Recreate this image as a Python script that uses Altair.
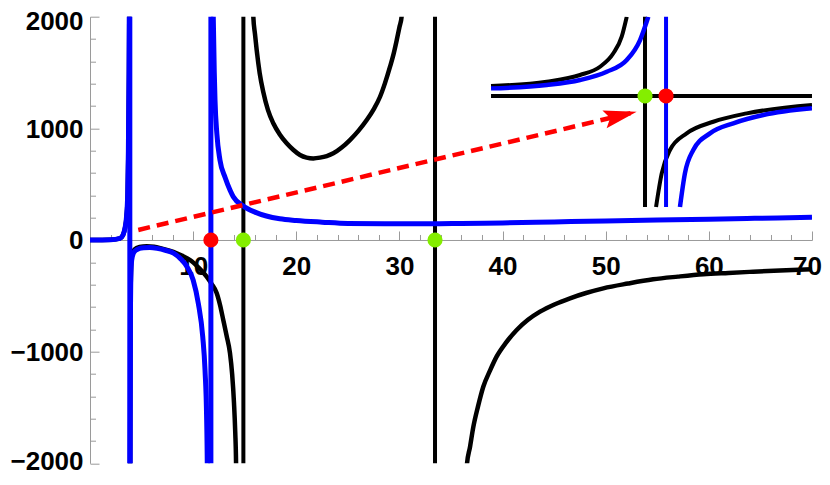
import altair as alt
import pandas as pd

# ---------------- axis tick values ----------------
x_major = [10, 20, 30, 40, 50, 60, 70]
x_minor = [2, 4, 6, 8, 12, 14, 16, 18, 22, 24, 26, 28, 32, 34, 36, 38,
           42, 44, 46, 48, 52, 54, 56, 58, 62, 64, 66, 68]
y_labels = [-2000, -1000, 0, 1000, 2000]
y_major = [-2000, -1000, 1000, 2000]
y_minor = [-1800, -1600, -1400, -1200, -800, -600, -400, -200,
           200, 400, 600, 800, 1200, 1400, 1600, 1800]

# ---------------- main blue curve (branches) ----------------
blue_b1_x = [0, 2.0, 2.9, 3.2, 3.4, 3.55, 3.65, 3.72, 3.78, 3.83]
blue_b1_y = [0, 2, 15, 45, 110, 220, 400, 800, 1500, 2500]
blue_b2_x = [3.88, 3.92, 3.97, 4.04, 4.2, 4.4, 4.8, 5.2, 5.8, 6.5, 7.3, 8.1, 8.8,
             9.4, 10.0, 10.5, 10.93, 11.15, 11.31, 11.37, 11.40]
blue_b2_y = [-2500, -700, -300, -180, -120, -95, -75, -69, -68, -75, -92, -118, -170,
             -239, -358, -567, -866, -1164, -1612, -2024, -2500]
blue_b3_x = [11.85, 11.95, 12.05, 12.12, 12.3, 12.6, 13.1, 13.57, 13.89, 14.86, 16.0,
             17.1, 18.4, 20.0, 22.5, 25, 30, 33, 36, 40, 45, 50, 55, 60, 65, 70]
blue_b3_y = [2600, 2005, 1500, 1254, 950, 716, 560, 448, 388, 305, 250,
             215, 190, 175, 160, 148, 145, 145, 148, 153, 162, 170, 178, 186, 195, 203]
blue_poles = [3.86, 11.72]

# ---------------- main black curve (branches) ----------------
black_k1_x = blue_b1_x
black_k1_y = blue_b1_y
black_k2_x = [3.88, 3.92, 3.97, 4.05, 4.3, 4.8, 5.5, 6.2, 7.0, 8.08, 8.9, 9.7, 10.5,
              11.31, 11.8, 12.28, 12.6, 12.92, 13.25, 13.57, 13.78, 13.96, 14.08, 14.16, 14.2]
black_k2_y = [-2500, -700, -300, -140, -85, -62, -55, -60, -78, -107, -140, -179, -245,
              -328, -395, -475, -580, -716, -860, -1012, -1200, -1460, -1720, -2000, -2500]
black_k3_x = [15.78, 15.83, 16.0, 16.16, 16.45, 16.8, 17.25, 17.77, 18.4, 19.07, 19.7,
              20.36, 21.0, 21.65, 22.3, 22.95, 23.59, 24.4, 25.2, 26.0, 26.83, 27.5,
              28.12, 28.6, 29.09, 29.43, 29.74, 30.0, 30.22, 30.35]
black_k3_y = [2500, 2006, 1840, 1701, 1495, 1325, 1165, 1045, 945, 866, 808,
              761, 738, 731, 738, 752, 776, 828, 895, 975, 1074, 1170,
              1283, 1405, 1552, 1665, 1791, 1905, 2006, 2500]
black_k4_x = [36.45, 36.53, 36.85, 37.17, 37.62, 38.13, 38.78, 39.42, 40.33, 41.37, 42.46,
              43.63, 45.08, 46.54, 48.09, 49.77, 52.16, 54.6, 57.0, 59.47, 61.9, 64.3, 66.9, 70.0]
black_k4_y = [-2500, -2024, -1850, -1672, -1490, -1314, -1170, -1045, -920, -806, -715,
              -642, -575, -522, -475, -433, -390, -352, -328, -307, -295, -284, -273, -262]
black_poles = [14.87, 33.45]

# ---------------- marked points on the axis ----------------
root_x = [14.87, 33.45]      # green
pole_x = [11.72]             # red

# ---------------- inset (drawn in main-chart units) ----------------
inset_axis_y = 1290
inset_x_range = [38.88, 70.0]
inset_y_range = [296, 2000]
inset_black_pole = 53.81
inset_blue_pole = 55.85
inset_black_up_x = [38.88, 44.28, 47.51, 49.45, 50.74, 51.55, 52.04]
inset_black_up_y = [1379, 1418, 1478, 1552, 1672, 1821, 2000]
inset_blue_up_x = [38.88, 44.28, 47.51, 50.10, 52.04, 53.33, 54.13]
inset_blue_up_y = [1358, 1388, 1433, 1507, 1612, 1791, 2000]
inset_black_lo_x = [54.88, 55.43, 56.23, 57.85, 60.43, 63.67, 70.0]
inset_black_lo_y = [296, 597, 806, 955, 1059, 1134, 1209]
inset_blue_lo_x = [57.20, 57.68, 58.49, 60.11, 62.37, 65.28, 70.0]
inset_blue_lo_y = [296, 597, 806, 955, 1045, 1119, 1179]

# ---------------- arrow ----------------
arrow_x = [4.68, 53.0]
arrow_y = [90, 1149]

# ======================================================================
W, H = 722, 446.6
GRAY = "#9a9a9a"
BLUE = "#0000ff"
GREEN = "#84ee00"
RED = "#ff0000"
FONT = "Liberation Sans"


def branches_df(branches, prefix):
    rows = []
    for k, (xs, ys) in enumerate(branches):
        for i, (x, y) in enumerate(zip(xs, ys)):
            rows.append({"seg": f"{prefix}{k}", "i": i, "x": x, "y": y})
    return pd.DataFrame(rows)


black_df = branches_df([(black_k1_x, black_k1_y), (black_k2_x, black_k2_y),
                        (black_k3_x, black_k3_y), (black_k4_x, black_k4_y)], "k")
blue_df = branches_df([(blue_b1_x, blue_b1_y), (blue_b2_x, blue_b2_y),
                       (blue_b3_x, blue_b3_y)], "b")
inset_black_df = branches_df([(inset_black_up_x, inset_black_up_y),
                              (inset_black_lo_x, inset_black_lo_y)], "ik")
inset_blue_df = branches_df([(inset_blue_up_x, inset_blue_up_y),
                             (inset_blue_lo_x, inset_blue_lo_y)], "ib")

black_vert_df = pd.DataFrame({"x": black_poles, "y": [-2000] * len(black_poles),
                              "y2": [2000] * len(black_poles)})
blue_vert_df = pd.DataFrame({"x": blue_poles, "y": [-2000] * len(blue_poles),
                             "y2": [2000] * len(blue_poles)})
inset_black_vert_df = pd.DataFrame({"x": [inset_black_pole], "y": [inset_y_range[0]],
                                    "y2": [inset_y_range[1]]})
inset_blue_vert_df = pd.DataFrame({"x": [inset_blue_pole], "y": [inset_y_range[0]],
                                   "y2": [inset_y_range[1]]})
inset_h_df = pd.DataFrame({"x": [inset_x_range[0]], "x2": [inset_x_range[1]],
                           "y": [inset_axis_y]})
arrow_df = pd.DataFrame({"x": arrow_x, "y": arrow_y, "i": [0, 1]})
head_df = pd.DataFrame({"x": [arrow_x[-1]], "y": [arrow_y[-1]]})
dots_df = pd.DataFrame({
    "x": root_x + pole_x + [inset_black_pole, inset_blue_pole],
    "y": [0] * (len(root_x) + len(pole_x)) + [inset_axis_y, inset_axis_y],
    "kind": ["root"] * len(root_x) + ["pole"] * len(pole_x) + ["root", "pole"],
})

xscale = alt.Scale(domain=[0, 70], nice=False, zero=False)
yscale = alt.Scale(domain=[-2000, 2000], nice=False, zero=False)

LBL = dict(labelFont=FONT, labelFontWeight="bold", labelFontSize=26,
           labelColor="black", labelFlush=False, labelOverlap=False, grid=False)

x_label_axis = alt.Axis(orient="bottom", offset=-H / 2, values=x_major, format="d",
                        ticks=False, domain=True, domainColor=GRAY, domainWidth=1,
                        labelPadding=14,
                        labelOffset=alt.ExprRef(expr="datum.value == 70 ? -5 : 0"),
                        **LBL)
y_label_axis = alt.Axis(orient="left", values=y_labels, format="d",
                        ticks=False, domain=True, domainColor=GRAY, domainWidth=1,
                        labelPadding=7,
                        labelOffset=alt.ExprRef(expr="datum.value == 2000 ? 5 : (datum.value == -2000 ? -1.5 : 1)"),
                        **LBL)


def tick_axis(orient, values, size, offset):
    return alt.Axis(orient=orient, offset=offset, values=values, labels=False,
                    domain=False, ticks=True, tickSize=size, tickWidth=1,
                    tickColor=GRAY, grid=False)


x_major_axis = tick_axis("top", x_major, 9, -H / 2)
y_major_axis = tick_axis("right", y_major, 9, -W)
x_minor_axis = tick_axis("top", x_minor, 5.5, -H / 2)
y_minor_axis = tick_axis("right", y_minor, 5.5, -W)


def X(axis=None, field="x"):
    if axis is None:
        return alt.X(f"{field}:Q", scale=xscale, axis=None)
    return alt.X(f"{field}:Q", scale=xscale, axis=axis, title=None)


def Y(axis=None, field="y"):
    if axis is None:
        return alt.Y(f"{field}:Q", scale=yscale, axis=None)
    return alt.Y(f"{field}:Q", scale=yscale, axis=axis, title=None)


black_main = alt.Chart(black_df).mark_line(
    color="black", strokeWidth=4.5, clip=True, interpolate="monotone"
).encode(x=X(x_label_axis), y=Y(y_label_axis), detail="seg:N", order="i:Q")

black_vert = alt.Chart(black_vert_df).mark_rule(color="black", strokeWidth=4).encode(
    x=X(), y=Y(), y2="y2:Q")

inset_h = alt.Chart(inset_h_df).mark_rule(color="black", strokeWidth=4).encode(
    x=X(), x2="x2:Q", y=Y())

inset_black_vert = alt.Chart(inset_black_vert_df).mark_rule(
    color="black", strokeWidth=4).encode(x=X(), y=Y(), y2="y2:Q")

inset_black = alt.Chart(inset_black_df).mark_line(
    color="black", strokeWidth=4, clip=True, interpolate="monotone"
).encode(x=X(), y=Y(), detail="seg:N", order="i:Q")

blue_main = alt.Chart(blue_df).mark_line(
    color=BLUE, strokeWidth=5, clip=True, interpolate="monotone"
).encode(x=X(x_major_axis), y=Y(y_major_axis), detail="seg:N", order="i:Q")

blue_vert = alt.Chart(blue_vert_df).mark_rule(color=BLUE, strokeWidth=5).encode(
    x=X(), y=Y(), y2="y2:Q")

inset_blue_vert = alt.Chart(inset_blue_vert_df).mark_rule(
    color=BLUE, strokeWidth=4).encode(x=X(), y=Y(), y2="y2:Q")

inset_blue = alt.Chart(inset_blue_df).mark_line(
    color=BLUE, strokeWidth=4.5, clip=True, interpolate="monotone"
).encode(x=X(), y=Y(), detail="seg:N", order="i:Q")

arrow_line = alt.Chart(arrow_df).mark_line(
    color=RED, strokeWidth=4.5, strokeDash=[12, 7], strokeCap="butt"
).encode(x=X(), y=Y(), order="i:Q")

ARROW_PATH = "M0,0 L-2,-0.55 L-1.65,0 L-2,0.55 Z"
arrow_head = alt.Chart(head_df).mark_point(
    shape=ARROW_PATH, size=1089, angle=346.65, filled=True, color=RED,
    opacity=1, strokeWidth=0
).encode(x=X(), y=Y())

dots = alt.Chart(dots_df).mark_circle(size=230, opacity=1).encode(
    x=X(x_minor_axis), y=Y(y_minor_axis),
    color=alt.Color("kind:N", scale=alt.Scale(domain=["root", "pole"], range=[GREEN, RED]),
                    legend=None))

chart = alt.layer(
    black_main, black_vert, inset_h, inset_black_vert, inset_black,
    blue_main, blue_vert, inset_blue_vert, inset_blue,
    arrow_line, arrow_head, dots
).resolve_axis(x="independent", y="independent").properties(
    width=W, height=H,
    autosize=alt.AutoSizeParams(type="none"),
    padding={"left": 82, "top": 8.7, "right": 10, "bottom": 13.4},
    background="white",
).configure_view(strokeWidth=0)

chart.save("out.html", embed_options={"renderer": "svg", "actions": False})
